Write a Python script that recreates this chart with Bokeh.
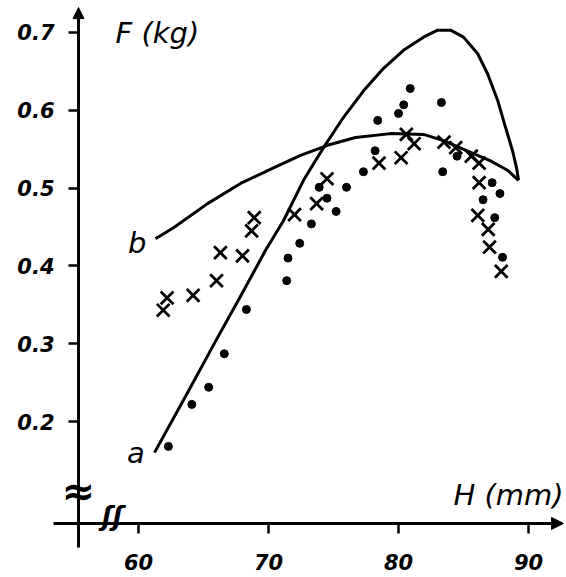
from bokeh.plotting import figure
from bokeh.models import Range1d, FixedTicker, Arrow, NormalHead, Label
from bokeh.core.properties import value
from bokeh.embed import file_html
from bokeh.resources import INLINE

# ---- data ----
dots_h = [62.3, 64.1, 65.4, 66.6, 68.3, 71.4, 71.5, 72.4, 73.3, 73.9, 74.5, 75.2, 76.0,
          77.3, 78.2, 78.4, 80.0, 80.4, 80.9, 83.3, 83.4, 84.5, 86.5, 87.2, 87.4, 87.8, 88.0]
dots_f = [0.168, 0.222, 0.244, 0.287, 0.344, 0.381, 0.410, 0.429, 0.454, 0.501, 0.487, 0.470, 0.501,
          0.521, 0.548, 0.587, 0.596, 0.607, 0.628, 0.610, 0.521, 0.541, 0.485, 0.507, 0.462, 0.493, 0.411]

cross_h = [61.9, 62.2, 64.2, 66.0, 66.3, 68.0, 68.7, 68.9, 72.0, 73.7, 74.5, 78.5, 80.2, 80.6,
           81.2, 83.5, 84.4, 85.6, 86.2, 86.2, 86.1, 86.9, 87.0, 87.9]
cross_f = [0.343, 0.359, 0.362, 0.381, 0.417, 0.413, 0.445, 0.462, 0.466, 0.480, 0.512, 0.532, 0.539, 0.569,
           0.557, 0.559, 0.552, 0.541, 0.532, 0.507, 0.465, 0.447, 0.424, 0.393]

curve_a_h = [61.23, 63.77, 65.92, 68.08, 69.77, 71.15, 72.69, 74.23, 75.77, 77.31, 78.85, 80.38,
             81.92, 83.0, 84.0, 85.0, 86.08, 86.85, 87.62, 88.23, 88.77, 89.08, 89.23]
curve_a_f = [0.160, 0.237, 0.303, 0.368, 0.420, 0.458, 0.510, 0.552, 0.591, 0.625, 0.654, 0.677,
             0.694, 0.703, 0.703, 0.694, 0.673, 0.647, 0.613, 0.578, 0.548, 0.526, 0.510]

curve_b_h = [61.31, 62.69, 65.31, 67.85, 70.38, 72.46, 74.54, 76.69, 79.38, 81.92, 83.46,
             85.54, 87.08, 88.38, 89.23]
curve_b_f = [0.435, 0.449, 0.480, 0.506, 0.526, 0.542, 0.555, 0.565, 0.570, 0.569, 0.561,
             0.546, 0.535, 0.523, 0.510]

x_ticks = [60, 70, 80, 90]
x_tick_labels = ["60", "70", "80", "90"]
y_ticks = [0.2, 0.3, 0.4, 0.5, 0.6, 0.7]
y_tick_labels = ["0.2", "0.3", "0.4", "0.5", "0.6", "0.7"]

curve_labels = ["a", "b"]
x_title = "H (mm)"
y_title = "F (kg)"

# axis crossing positions (data units)
X_AXIS_AT = 0.069
Y_AXIS_AT = 55.385
Y_BREAK_AT = 0.111
X_BREAK_AT = 58.0

FONT = "DejaVu Sans"

p = figure(width=566, height=577, output_backend="svg", toolbar_location=None,
           x_range=Range1d(49.385, 92.92), y_range=Range1d(-0.0005, 0.7411),
           min_border=0, outline_line_color=None, background_fill_color="white")
p.grid.visible = False

for ax in (p.xaxis[0], p.yaxis[0]):
    ax.axis_line_color = None
    ax.major_tick_in = 0
    ax.major_tick_out = 10
    ax.major_tick_line_width = 2.5
    ax.major_tick_line_color = "black"
    ax.minor_tick_line_color = None
    ax.major_label_text_font = FONT
    ax.major_label_text_font_style = "bold italic"
    ax.major_label_text_font_size = "21px"
    ax.major_label_text_color = "black"

p.xaxis[0].fixed_location = X_AXIS_AT
p.yaxis[0].fixed_location = Y_AXIS_AT
p.xaxis[0].ticker = FixedTicker(ticks=x_ticks)
p.yaxis[0].ticker = FixedTicker(ticks=y_ticks)
p.xaxis[0].major_label_overrides = {t: l for t, l in zip(x_ticks, x_tick_labels)}
p.yaxis[0].major_label_overrides = {t: l for t, l in zip(y_ticks, y_tick_labels)}
p.xaxis[0].major_label_standoff = 21
p.yaxis[0].major_label_standoff = 14

# axis lines with arrow heads
p.add_layout(Arrow(end=NormalHead(size=12, fill_color="black", line_color="black"),
                   x_start=53.46, y_start=X_AXIS_AT, x_end=92.69, y_end=X_AXIS_AT,
                   line_width=3, line_color="black"))
p.add_layout(Arrow(end=NormalHead(size=11, fill_color="black", line_color="black"),
                   x_start=Y_AXIS_AT, y_start=0.038, x_end=Y_AXIS_AT, y_end=0.732,
                   line_width=3, line_color="black"))

# axis break marks
p.text(x=[Y_AXIS_AT], y=[Y_BREAK_AT], text=["≈"], text_font=value(FONT), text_font_style="bold",
       text_font_size="40px", text_align="center", text_baseline="middle", text_color="black")
p.text(x=[X_BREAK_AT], y=[X_AXIS_AT + 0.010], text=["ʃʃ"], text_font=value(FONT),
       text_font_style="bold italic", text_font_size="26px", text_align="center",
       text_baseline="middle", text_color="black")

# curves
p.line(curve_a_h, curve_a_f, line_width=3, line_color="black", line_join="round")
p.line(curve_b_h, curve_b_f, line_width=3, line_color="black", line_join="round")

# data points
p.scatter(dots_h, dots_f, marker="circle", size=8, fill_color="black", line_color="black")
p.scatter(cross_h, cross_f, marker="x", size=18, line_color="black", line_width=2.8)

# curve labels
p.text(x=[59.8, 59.9], y=[0.160, 0.430], text=curve_labels, text_font=value(FONT),
       text_font_style="italic", text_font_size="29px", text_align="center",
       text_baseline="middle", text_color="black")

# axis titles
p.add_layout(Label(x=58.23, y=0.699, text=y_title, text_font=FONT, text_font_style="italic",
                   text_font_size="29px", text_baseline="alphabetic", text_color="black"))
p.add_layout(Label(x=84.23, y=0.105, text=x_title, text_font=FONT, text_font_style="italic",
                   text_font_size="29px", text_baseline="alphabetic", text_color="black"))

open("out.html", "w").write(file_html(p, INLINE))
